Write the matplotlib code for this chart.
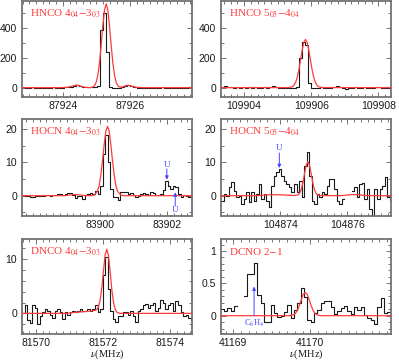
import numpy as np
import matplotlib
matplotlib.use("Agg")
import matplotlib.pyplot as plt
from matplotlib import font_manager
from matplotlib.ticker import MultipleLocator

# narrow sans for the tick numbers if we have one
names = {f.name for f in font_manager.fontManager.ttflist}
if 'Liberation Sans Narrow' in names:
    TICKFONT, TICKSIZE = 'Liberation Sans Narrow', 8.5
else:
    TICKFONT, TICKSIZE = 'Liberation Sans', 7.5
plt.rcParams['font.family'] = [TICKFONT, 'DejaVu Sans']
plt.rcParams['mathtext.fontset'] = 'stix'

# ---- HNCO 4(04)-3(03): first channel centre, channel width (MHz), T values
hnco4_f0, hnco4_df = 87922.82, 0.09
hnco4_T = [3, 0, -3, 2, 0, -2, 0, -4, -2, 0, 2, 0, -3, 0, 3, 2, 5, 12, 16, 10,
           3, 2, 4, 3, 5, 10, 390, 500, 240, 5, -5, -3, 0, 5, 12, 16, 8, 2, 0, -2,
           0, -3, -2, 0, -2, 0, 2, -3, -5, -2, -4, 0, -2, -4, -3, 5, 10]
hnco4_fit_f = [87922.78, 87923.9, 87924.15, 87924.3, 87924.4, 87924.5, 87924.65, 87924.8,
               87924.89, 87924.94, 87924.99, 87925.04, 87925.09, 87925.14, 87925.19, 87925.24,
               87925.29, 87925.34, 87925.39, 87925.44, 87925.49, 87925.54, 87925.59, 87925.64,
               87925.69, 87925.78, 87925.88, 87925.95, 87926.05, 87926.2, 87926.4, 87927.9]
hnco4_fit_T = [0, 0, 3, 12, 17, 12, 3, 0, 4, 13, 35, 82, 165, 283, 415, 523,
               565, 523, 415, 283, 165, 82, 35, 13, 4, 5, 14, 16, 10, 2, 0, 0]

# ---- HNCO 5(05)-4(04)
hnco5_f0, hnco5_df = 109903.35, 0.09
hnco5_T = [5, 8, 3, 5, 0, 3, -2, 2, 0, 3, 0, 2, -3, 0, 2, 0, 3, 8, 5, 0,
           -3, 0, 0, -3, 0, 5, 200, 305, 290, 30, 0, -3, 0, 2, 0, -2, 0, 5, 8, 3,
           -5, -8, -3, 0, 2, -2, 0, 3, 0, -2, 0, 3, 5, 0, -3, 0, 2]
hnco5_fit_f = [109903.3, 109905.33, 109905.43, 109905.48, 109905.53, 109905.58, 109905.63,
               109905.68, 109905.73, 109905.78, 109905.83, 109905.88, 109905.93, 109905.98,
               109906.03, 109906.08, 109906.13, 109906.18, 109906.23, 109906.33, 109908.4]
hnco5_fit_T = [0, 0.6, 5.5, 14, 33, 66, 117, 183, 252, 305, 325, 305, 252, 183,
               117, 66, 33, 14, 5.5, 0.6, 0]

# ---- HOCN 4(04)-3(03)
hocn4_f0, hocn4_df = 83897.71, 0.075
hocn4_T = [0.3, 0.0, 0.0, -0.3, -0.3, 0.0, 0.0, 0.0, -0.2, 0.2, 0.1, 0.0, 0.2, 0.3,
           0.5, 0.5, 0.3, 0.4, 0.8, 0.8, 0.3, -0.8, -0.2, -0.2, -1.0, 0.3, 0.6, 0.8,
           0.5, 1.3, 0.4, 3.0, 12.5, 18.3, 10.0, 2.0, -0.3, -0.5, -1.2, 1.0, 1.2, 1.0,
           0.5, 0.8, 0.3, -0.3, 0.0, 0.5, 0.8, 0.6, 0.3, 1.0, 0.8, 0.2, 0.3, 0.5,
           1.8, 4.3, 3.0, 2.0, 2.8, 2.5, 0.5, -0.5, 0.2, 0.0, -0.4, -0.4]
hocn4_fit_f = [83897.6, 83898.95, 83899.1, 83899.25, 83899.4, 83899.55, 83899.72, 83899.82,
               83899.92, 83899.97, 83900.02, 83900.07, 83900.12, 83900.17, 83900.22, 83900.27,
               83900.32, 83900.37, 83900.42, 83900.47, 83900.52, 83900.62, 83900.72, 83902.8]
hocn4_fit_T = [0, 0, 0.2, 0.35, 0.2, 0.05, 0, 0.15, 1.3, 3.0, 6.1, 10.4, 15.3, 19.3, 20.8,
               19.3, 15.3, 10.4, 6.1, 3.0, 1.3, 0.15, 0, 0]
hocn4_u = [83901.99, 83902.24]

# ---- HOCN 5(05)-4(04)
hocn5_f0, hocn5_df = 104872.27, 0.075
hocn5_T = [-1.5, 0.5, -0.2, 2.5, 4.0, 1.5, -0.3, 0.0, -2.5, -1.0, 1.0, -2.0, 1.0, -1.5,
           0.5, 3.5, -1.0, 0.5, -1.5, -3.3, 3.0, 6.0, 7.0, 8.0, 6.0, 4.5, 3.5, 2.5,
           1.0, 3.5, 1.0, 4.5, -0.5, 9.0, 13.0, 6.0, -1.5, -2.5, 0.5, -0.3, 1.0, 0.5,
           3.0, 5.0, 5.0, 2.0, -1.5, -2.5, -1.0, np.nan, np.nan, np.nan, 1.5, 2.5, -0.5, 3.5,
           3.7, -1.0, 2.0, -4.0, -6.5, 2.0, -1.0, 2.0, 3.0, 5.5, -0.5, -1.5]
hocn5_fit_f = [104872.2, 104873.3, 104873.6, 104873.9, 104874.2, 104874.42, 104874.52,
               104874.57, 104874.62, 104874.67, 104874.72, 104874.77, 104874.82, 104874.87,
               104874.92, 104874.97, 104875.02, 104875.07, 104875.12, 104875.22, 104875.8,
               104876.1, 104876.3, 104876.6, 104877.4]
hocn5_fit_T = [0, 0, 0.25, 0.3, 0.15, 0.05, 0.19, 0.64, 1.73, 3.75, 6.54, 9.13, 10.2, 9.13,
               6.54, 3.75, 1.73, 0.64, 0.19, 0.02, 0, 0.3, 0.3, 0, 0]
hocn5_u = [104873.97]

# ---- DNCO 4(04)-3(03)
dnco_f0, dnco_df = 81569.62, 0.075
dnco_T = [0.0, 1.5, -1.2, -1.8, 1.5, 1.0, -2.0, -0.5, 0.3, 0.8, 0.5, -0.3, -0.8, 0.5,
          0.8, 0.3, -1.0, 0.2, -0.3, 0.3, 0.5, 0.2, 0.5, 0.8, 0.5, 0.5, 0.8, 0.5,
          0.8, 1.5, 0.3, 0.8, 7.0, 10.4, 4.5, 0.5, -1.0, -1.5, -0.5, -0.5, 0.3, 0.3,
          -0.3, 0.5, -0.5, -1.5, 0.5, 0.8, 1.5, 1.8, 1.0, 1.5, 2.0, 0.5, 1.0, 2.5,
          2.0, 0.8, 1.5, 2.0, 0.5, 2.3, 1.5, 0.3, -0.5, -0.3, -0.8, -1.2]
dnco_fit_f = [81569.55, 81570.9, 81571.1, 81571.4, 81571.65, 81571.76, 81571.81, 81571.86,
              81571.91, 81571.96, 81572.01, 81572.06, 81572.11, 81572.16, 81572.21, 81572.26,
              81572.31, 81572.36, 81572.41, 81572.5, 81574.7]
dnco_fit_T = [0, 0, 0.15, 0.3, 0.45, 0.55, 0.7, 1.2, 2.4, 4.7, 7.9, 10.8, 11.8, 10.6,
              7.6, 4.3, 2.0, 0.7, 0.2, 0, 0]

# ---- DCNO 2-1
dcno_f0, dcno_df = 41168.857, 0.0433
dcno_T = [0.11, 0.08, 0.12, 0.08, 0.15, np.nan, np.nan, 0.30, 0.64, 0.64, 0.81, 0.32,
          0.19, -0.10, -0.10, 0.16, 0.04, -0.02, -0.01, 0.05, 0.16, -0.03, 0.09, 0.19,
          0.43, 0.29, -0.07, -0.09, 0.04, 0.09, 0.19, 0.23, 0.23, 0.14, 0.02, 0.07,
          0.12, 0.15, 0.07, 0.02, 0.14, 0.09, 0.14, 0.01, -0.04, -0.07, -0.13, 0.14,
          0.27, 0.04, 0.05]
dcno_fit_f = [41168.8, 41169.735, 41169.785, 41169.81, 41169.835, 41169.86, 41169.885,
              41169.91, 41169.935, 41169.96, 41169.985, 41170.01, 41170.035, 41170.06,
              41170.085, 41170.135, 41171.1]
dcno_fit_T = [0, 0, 0.015, 0.039, 0.087, 0.162, 0.253, 0.33, 0.36, 0.33, 0.253, 0.162,
              0.087, 0.039, 0.015, 0, 0]
c6h4_f = 41169.27

RED = '#ff3a3a'
BLUE = '#4646ff'
FRAME = '0.45'

panels = [
    dict(title=r"HNCO 4$_{04}$$-$3$_{03}$", f0=hnco4_f0, df=hnco4_df, T=hnco4_T,
         ff=hnco4_fit_f, fT=hnco4_fit_T, xlim=(87922.78, 87927.85), ylim=(-63, 584),
         xt=[87924, 87926], yt=[0, 200, 400], ytl=['0', '200', '400'],
         xmin=0.2, ymin=100, box=(22, 1, 192, 97)),
    dict(title=r"HNCO 5$_{05}$$-$4$_{04}$", f0=hnco5_f0, df=hnco5_df, T=hnco5_T,
         ff=hnco5_fit_f, fT=hnco5_fit_T, xlim=(109903.31, 109908.38), ylim=(-63, 584),
         xt=[109904, 109906, 109908], yt=[0, 200, 400], ytl=['0', '200', '400'],
         xmin=0.2, ymin=100, box=(221, 1, 391, 97)),
    dict(title=r"HOCN 4$_{04}$$-$3$_{03}$", f0=hocn4_f0, df=hocn4_df, T=hocn4_T,
         ff=hocn4_fit_f, fT=hocn4_fit_T, xlim=(83897.67, 83902.74), ylim=(-6.1, 23),
         xt=[83900, 83902], yt=[0, 10, 20], ytl=['0', '10', '20'],
         xmin=0.2, ymin=5, box=(22, 119, 192, 216)),
    dict(title=r"HOCN 5$_{05}$$-$4$_{04}$", f0=hocn5_f0, df=hocn5_df, T=hocn5_T,
         ff=hocn5_fit_f, fT=hocn5_fit_T, xlim=(104872.23, 104877.30), ylim=(-6.1, 23),
         xt=[104874, 104876], yt=[0, 10, 20], ytl=['0', '10', '20'],
         xmin=0.2, ymin=5, box=(221, 119, 391, 216)),
    dict(title=r"DNCO 4$_{04}$$-$3$_{03}$", f0=dnco_f0, df=dnco_df, T=dnco_T,
         ff=dnco_fit_f, fT=dnco_fit_T, xlim=(81569.58, 81574.65), ylim=(-3.8, 13.7),
         xt=[81570, 81572, 81574], yt=[0, 10], ytl=['0', '10'],
         xmin=0.2, ymin=2, box=(22, 239, 192, 334)),
    dict(title=r"DCNO 2$-$1", f0=dcno_f0, df=dcno_df, T=dcno_T,
         ff=dcno_fit_f, fT=dcno_fit_T, xlim=(41168.84, 41171.05), ylim=(-0.283, 1.185),
         xt=[41169, 41170], yt=[0, 0.5, 1], ytl=['0', '0.5', '1'],
         xmin=0.1, ymin=0.1, box=(221, 239, 391, 334)),
]

W, H = 399, 362
fig = plt.figure(figsize=(W / 100, H / 100), dpi=100)

axes = []
for p in panels:
    x0, y0, x1, y1 = p['box']
    ax = fig.add_axes([x0 / W, 1 - y1 / H, (x1 - x0) / W, (y1 - y0) / H])
    axes.append(ax)

    # histogram of the spectrum
    T = np.asarray(p['T'], float)
    edges = p['f0'] - p['df'] / 2 + p['df'] * np.arange(len(T) + 1)
    ax.plot(np.repeat(edges, 2)[1:-1], np.repeat(T, 2), color='0.1', lw=0.8, zorder=2)
    # model
    ax.plot(p['ff'], p['fT'], color=RED, lw=0.9, zorder=3)

    ax.set_xlim(*p['xlim'])
    ax.set_ylim(*p['ylim'])
    ax.set_xticks(p['xt'])
    ax.set_xticklabels([str(v) for v in p['xt']])
    ax.set_yticks(p['yt'])
    ax.set_yticklabels(p['ytl'])
    ax.xaxis.set_minor_locator(MultipleLocator(p['xmin']))
    ax.yaxis.set_minor_locator(MultipleLocator(p['ymin']))
    ax.tick_params(which='both', direction='in', top=True, right=True,
                   color=FRAME, width=0.7, labelsize=TICKSIZE, labelcolor='0.1')
    ax.tick_params(axis='x', which='both', pad=2.8)
    ax.tick_params(axis='y', which='both', pad=3.5)
    ax.tick_params(which='major', length=3.8)
    ax.tick_params(which='minor', length=2)
    for s in ax.spines.values():
        s.set_color(FRAME)
        s.set_linewidth(1.3)

    ax.text(0.045, 0.87, p['title'], transform=ax.transAxes, color=RED,
            fontsize=8, family='Liberation Serif', va='center', ha='left')

# unidentified features, HOCN 4-3
ax = axes[2]
ax.annotate('', xy=(hocn4_u[0], 4.8), xytext=(hocn4_u[0], 8.0),
            arrowprops=dict(arrowstyle='-|>', color=BLUE, lw=0.7, mutation_scale=5,
                            shrinkA=0, shrinkB=0))
ax.text(hocn4_u[0], 9.3, 'U', color=BLUE, fontsize=6.5, family='Liberation Serif',
        ha='center', va='center')
ax.annotate('', xy=(hocn4_u[1], 1.0), xytext=(hocn4_u[1], -3.1),
            arrowprops=dict(arrowstyle='-|>', color=BLUE, lw=0.7, mutation_scale=5,
                            shrinkA=0, shrinkB=0))
ax.text(hocn4_u[1], -4.3, 'U', color=BLUE, fontsize=6.5, family='Liberation Serif',
        ha='center', va='center')

# unidentified feature, HOCN 5-4
ax = axes[3]
ax.annotate('', xy=(hocn5_u[0], 8.3), xytext=(hocn5_u[0], 12.8),
            arrowprops=dict(arrowstyle='-|>', color=BLUE, lw=0.7, mutation_scale=5,
                            shrinkA=0, shrinkB=0))
ax.text(hocn5_u[0], 14.2, 'U', color=BLUE, fontsize=6.5, family='Liberation Serif',
        ha='center', va='center')

# C6H4 line in the DCNO panel
ax = axes[5]
ax.annotate('', xy=(c6h4_f, 0.45), xytext=(c6h4_f, 0.0),
            arrowprops=dict(arrowstyle='-|>', color=BLUE, lw=0.7, mutation_scale=5,
                            shrinkA=0, shrinkB=0))
ax.text(c6h4_f, -0.12, r'C$_6$H$_4$', color=BLUE, fontsize=6, family='Liberation Serif',
        ha='center', va='center')

# frequency axis label under the bottom row, kept inside the canvas
for ax in axes[4:]:
    ax.text(0.5, -0.285, r'$\nu$(MHz)', transform=ax.transAxes, fontsize=7.5,
            family='Liberation Serif', ha='center', va='bottom', color='0.1')

fig.savefig('out.png', dpi=100)
